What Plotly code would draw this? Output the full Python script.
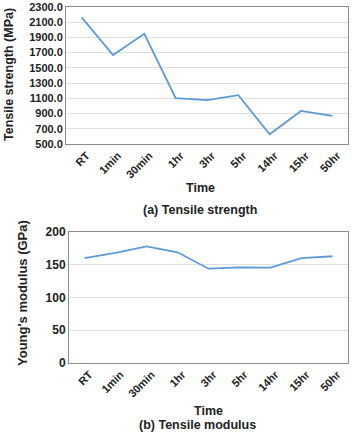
import plotly.graph_objects as go

categories = ["RT", "1min", "30min", "1hr", "3hr", "5hr", "14hr", "15hr", "50hr"]
tensile_strength = [2160, 1667, 1945, 1100, 1075, 1140, 628, 933, 870]
youngs_modulus = [160, 168, 178, 169, 144, 146, 145.5, 160, 163]

W, H = 352, 432
line_color = "#5B9BD5"
font_fam = "Arial, Liberation Sans, sans-serif"

fig = go.Figure()
fig.add_trace(go.Scatter(x=categories, y=tensile_strength, mode="lines",
                         line=dict(color=line_color, width=1.8), xaxis="x", yaxis="y"))
fig.add_trace(go.Scatter(x=categories, y=youngs_modulus, mode="lines",
                         line=dict(color=line_color, width=1.8), xaxis="x2", yaxis="y2"))

def px_x(p):
    return p / W

def px_y(p):
    return 1 - p / H

def axis_common(size):
    return dict(showline=True, linecolor="#8c8c8c", linewidth=1, mirror=True,
                ticks="", automargin=False,
                tickfont=dict(family=font_fam, size=size, color="#222222", weight="bold"))

n = len(categories)
fig.update_layout(
    width=W, height=H, margin=dict(l=0, r=0, t=0, b=0),
    paper_bgcolor="white", plot_bgcolor="white", showlegend=False,
    xaxis=dict(domain=[px_x(66), px_x(348)], anchor="y", tickangle=-45, range=[-0.5, n - 0.5],
               ticklabelshift=5, showgrid=False, **axis_common(11)),
    yaxis=dict(domain=[px_y(144), px_y(6.75)], anchor="x", range=[500, 2300], dtick=200, tick0=500,
               tickformat=".1f", showgrid=True, gridcolor="#e0e0e0", **axis_common(11)),
    xaxis2=dict(domain=[px_x(69), px_x(348)], anchor="y2", tickangle=-45, range=[-0.5, n - 0.5],
                ticklabelshift=5, showgrid=False, **axis_common(11)),
    yaxis2=dict(domain=[px_y(363), px_y(232)], anchor="x2", range=[0, 200], dtick=50,
                showgrid=True, gridcolor="#e0e0e0", **axis_common(12)),
)

def ann(text, x, y, size=11, angle=0):
    fig.add_annotation(text=f"<b>{text}</b>", x=px_x(x), y=px_y(y), xref="paper", yref="paper",
                       showarrow=False, textangle=angle, xanchor="center", yanchor="middle",
                       font=dict(family=font_fam, size=size, color="#222222"))

ann("Tensile strength (MPa)", 9, 75, size=12.5, angle=-90)
ann("Time", 200, 188, size=12.5)
ann("(a) Tensile strength", 200, 210, size=12.5)
ann("Young's modulus (GPa)", 22, 293, size=13, angle=-90)
ann("Time", 208, 411, size=12.5)
ann("(b) Tensile modulus", 197, 425, size=12.5)

fig.write_html("out.html")
